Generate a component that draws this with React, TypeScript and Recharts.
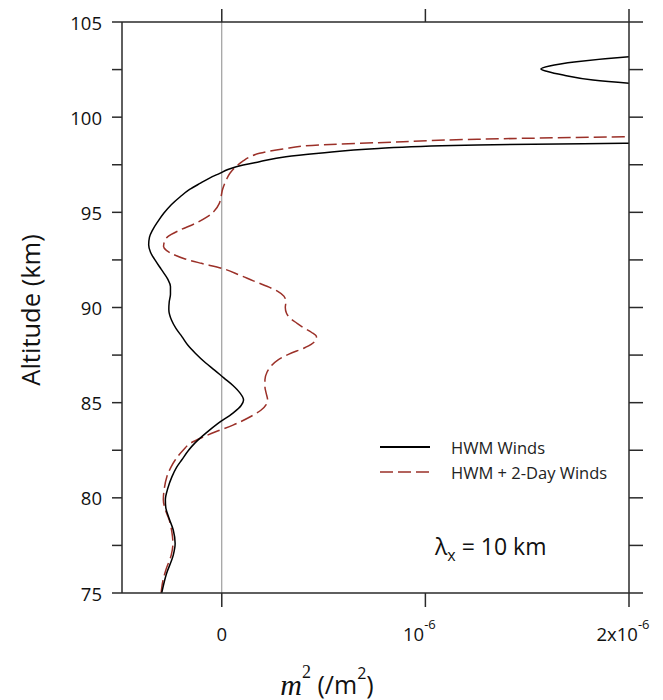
import { LineChart, Line, XAxis, YAxis, ReferenceLine, Legend, Label } from "recharts";

const FONT = "'Open Sans', 'DejaVu Sans', sans-serif";
const RED = "#9b3028";
const AXIS = "#2a2a2a";

// altitude (km) vs m^2, m^2 in units of 1e-6 /m^2
const hwmAlt = [
  75.0, 76.0, 77.0, 77.6, 78.3, 78.9, 79.5, 79.9, 80.5, 81.1, 81.6, 82.0, 82.5, 82.9,
  83.4, 83.9, 84.45, 84.85, 85.14, 85.5, 85.9, 86.3, 86.7, 87.1, 87.6, 88.0, 88.46,
  88.9, 89.34, 89.9, 90.3, 90.7, 91.1, 91.5, 92.0, 92.5, 92.9, 93.3, 93.7, 94.07, 94.5,
  94.95, 95.4, 95.82, 96.2, 96.52, 96.8, 97.05, 97.25, 97.4, 97.66, 97.92, 98.1, 98.36,
  98.54, 98.63, 98.7,
];
const hwmM2 = [
  -0.295, -0.272, -0.238, -0.229, -0.238, -0.258, -0.275, -0.277, -0.265, -0.245,
  -0.222, -0.196, -0.163, -0.13, -0.078, -0.02, 0.055, 0.095, 0.107, 0.09, 0.055, 0.01,
  -0.034, -0.08, -0.13, -0.165, -0.195, -0.225, -0.247, -0.26, -0.258, -0.252, -0.252,
  -0.266, -0.297, -0.328, -0.35, -0.359, -0.355, -0.34, -0.315, -0.285, -0.248, -0.204,
  -0.158, -0.107, -0.06, -0.01, 0.03, 0.071, 0.185, 0.315, 0.477, 0.769, 1.255, 1.976,
  2.6,
];

// the branch that comes back into view near the top
const hwmTopAlt = [101.7, 101.78, 101.95, 102.21, 102.4, 102.53, 102.69, 102.91, 103.18, 103.25];
const hwmTopM2 = [2.1, 2.0, 1.823, 1.677, 1.6, 1.567, 1.61, 1.742, 2.0, 2.1];

const twoDayAlt = [
  75.0, 75.6, 76.2, 77.0, 77.6, 78.2, 78.83, 79.4, 79.9, 80.5, 81.1, 81.6, 82.0, 82.5,
  82.86, 83.2, 83.47, 83.82, 84.26, 84.6, 84.9, 85.14, 85.5, 85.84, 86.2, 86.6, 86.9,
  87.24, 87.55, 87.9, 88.2, 88.46, 88.7, 88.95, 89.17, 89.45, 89.7, 90.0, 90.3, 90.6,
  90.85, 91.1, 91.4, 91.7, 92.06, 92.32, 92.55, 92.8, 93.0, 93.2, 93.45, 93.72, 94.07,
  94.42, 94.77, 95.03, 95.47, 95.8, 96.17, 96.7, 97.05, 97.4, 97.7, 97.92, 98.1, 98.33,
  98.54, 98.66, 98.84, 98.97, 99.05,
];
const twoDayM2 = [
  -0.298, -0.29, -0.275, -0.248, -0.24, -0.245, -0.258, -0.278, -0.287, -0.282, -0.27,
  -0.25, -0.228, -0.19, -0.155, -0.09, -0.03, 0.055, 0.14, 0.192, 0.218, 0.225, 0.218,
  0.212, 0.212, 0.222, 0.24, 0.275, 0.33, 0.41, 0.455, 0.465, 0.44, 0.4, 0.37, 0.335,
  0.318, 0.312, 0.315, 0.305, 0.275, 0.225, 0.155, 0.088, 0.0, -0.1, -0.18, -0.24,
  -0.272, -0.286, -0.282, -0.265, -0.205, -0.13, -0.07, -0.04, -0.012, -0.004, 0.003,
  0.022, 0.04, 0.07, 0.105, 0.14, 0.185, 0.3, 0.477, 0.769, 1.255, 1.976, 2.6,
];

const altTicks = [75, 77.5, 80, 82.5, 85, 87.5, 90, 92.5, 95, 97.5, 100, 102.5, 105];
const m2Ticks = [0, 1, 2];
const m2Labels = [
  { base: "0", sup: "" },
  { base: "10", sup: "-6" },
  { base: "2x10", sup: "-6" },
];

const zip = (alts: number[], vals: number[]) => alts.map((alt, i) => ({ alt, m2: vals[i] }));

const YTick = (props: any) => {
  const { x, y, payload } = props;
  if (payload.value % 5 !== 0) return <g />;
  return (
    <text x={x - 8} y={y} textAnchor="end" dominantBaseline="central" fontSize={18.5} fill="#111" fontFamily={FONT}>
      {payload.value}
    </text>
  );
};

const XTick = (props: any) => {
  const { x, y, payload } = props;
  const lab = m2Labels[m2Ticks.indexOf(payload.value)];
  if (!lab) return <g />;
  const shift = lab.sup ? -6 : 0;
  return (
    <text x={x + shift} y={y + 24} textAnchor="middle" dominantBaseline="central" fontSize={18.5} fill="#111" fontFamily={FONT}>
      {lab.base}
      {lab.sup && (
        <tspan fontSize={13} dy={-9}>
          {lab.sup}
        </tspan>
      )}
    </text>
  );
};

const renderLegend = () => (
  <svg width={290} height={50} style={{ display: "block" }}>
    <line x1={0} y1={11} x2={50} y2={11} stroke="#000" strokeWidth={2} />
    <text x={71} y={11} dominantBaseline="central" fontSize={16.5} fontFamily={FONT} fill="#222">
      HWM Winds
    </text>
    <line x1={0} y1={36} x2={50} y2={36} stroke={RED} strokeWidth={1.5} strokeDasharray="13 5" />
    <text x={71} y={36} dominantBaseline="central" fontSize={16.5} fontFamily={FONT} fill="#222">
      HWM + 2-Day Winds
    </text>
  </svg>
);

export default function App() {
  return (
    <div style={{ position: "relative", width: 655, height: 692 }}>
      <LineChart width={655} height={692} layout="vertical" margin={{ top: 0, right: 0, bottom: 0, left: 0 }}>
        <XAxis
          type="number"
          domain={[-0.49, 2]}
          allowDataOverflow
          ticks={m2Ticks}
          tickSize={14}
          height={107}
          stroke={AXIS}
          strokeWidth={1.5}
          tick={<XTick />}
        >
          <Label
            content={() => (
              <text x={319} y={676} textAnchor="middle" dominantBaseline="central" fill="#111">
                <tspan fontFamily="'Liberation Serif', serif" fontStyle="italic" fontSize={30}>m</tspan>
                <tspan fontFamily="'Liberation Serif', serif" fontSize={18} dy={-12}>2</tspan>
                <tspan fontFamily={FONT} fontSize={25} dy={12}> (/m</tspan>
                <tspan fontFamily={FONT} fontSize={16} dy={-11}>2</tspan>
                <tspan fontFamily={FONT} fontSize={25} dy={11}>)</tspan>
              </text>
            )}
          />
        </XAxis>
        <XAxis
          xAxisId="top"
          orientation="top"
          type="number"
          domain={[-0.49, 2]}
          allowDataOverflow
          ticks={m2Ticks}
          tickSize={13}
          height={14}
          stroke={AXIS}
          strokeWidth={1.5}
          tick={() => <g />}
        />
        <YAxis
          type="number"
          dataKey="alt"
          domain={[75, 105]}
          allowDataOverflow
          reversed
          ticks={altTicks}
          interval={0}
          tickSize={10}
          width={114}
          stroke={AXIS}
          strokeWidth={1.5}
          tick={<YTick />}
        >
          <Label
            content={() => (
              <text
                x={22}
                y={302}
                transform="rotate(-90 22 302)"
                textAnchor="middle"
                dominantBaseline="central"
                fontSize={25.5}
                fontFamily={FONT}
                fill="#111"
              >
                Altitude (km)
              </text>
            )}
          />
        </YAxis>
        <YAxis
          yAxisId="right"
          orientation="right"
          type="number"
          dataKey="alt"
          domain={[75, 105]}
          allowDataOverflow
          reversed
          ticks={altTicks}
          interval={0}
          tickSize={14}
          width={34}
          stroke={AXIS}
          strokeWidth={1.5}
          tick={() => <g />}
        />
        <ReferenceLine x={0} stroke="#8a8a8a" strokeWidth={1} />
        <Line
          data={zip(twoDayAlt, twoDayM2)}
          dataKey="m2"
          name="HWM + 2-Day Winds"
          type="monotone"
          stroke={RED}
          strokeWidth={1.5}
          strokeDasharray="13 5"
          dot={false}
          isAnimationActive={false}
        />
        <Line
          data={zip(hwmAlt, hwmM2)}
          dataKey="m2"
          name="HWM Winds"
          type="monotone"
          stroke="#000"
          strokeWidth={1.5}
          dot={false}
          isAnimationActive={false}
        />
        <Line
          data={zip(hwmTopAlt, hwmTopM2)}
          dataKey="m2"
          name="HWM Winds (upper)"
          type="monotone"
          stroke="#000"
          strokeWidth={1.5}
          dot={false}
          legendType="none"
          isAnimationActive={false}
        />
        <Legend
          layout="vertical"
          align="center"
          verticalAlign="middle"
          content={renderLegend}
          wrapperStyle={{ left: 372, top: 428, width: 290 }}
        />
      </LineChart>
      <div
        style={{
          position: "absolute",
          left: 427,
          top: 522,
          fontFamily: FONT,
          fontSize: 23,
          color: "#111",
          whiteSpace: "nowrap",
        }}
      >
        λ<sub style={{ fontSize: 16 }}>x</sub> = 10 km
      </div>
    </div>
  );
}
